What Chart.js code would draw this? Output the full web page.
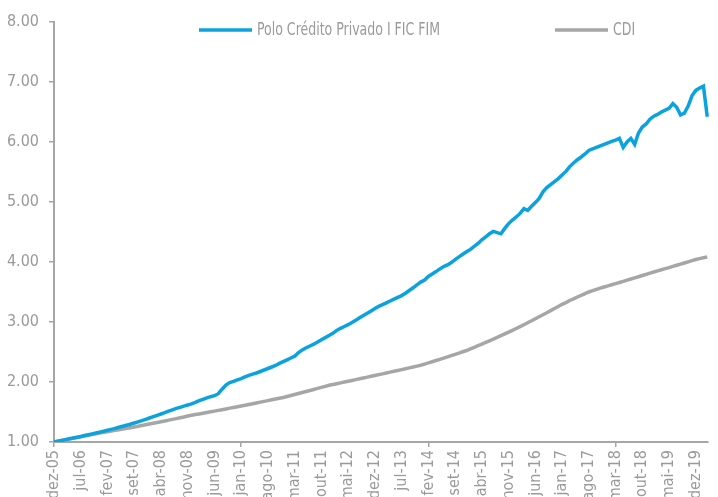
<!doctype html>
<html lang="pt-br">

<head>
    <title>Polo Crédito Privado x CDI</title>
    <meta charset="utf-8">
    <style>
        body { margin: 0; background: #fff; }
    </style>
</head>

<body>

    <canvas id="grafico" width="718" height="497"></canvas>

    <script src="https://cdn.jsdelivr.net/npm/chart.js"></script>
    <script>
        // rótulos dos meses (dez-05 até mar-20)
        const nomesMeses = ["jan", "fev", "mar", "abr", "mai", "jun", "jul", "ago", "set", "out", "nov", "dez"];
        const meses = ["dez-05"];
        for (let ano = 6; ano <= 20; ano++) {
            for (let m = 0; m < 12; m++) {
                if (ano === 20 && m > 2) break;
                meses.push(nomesMeses[m] + "-" + String(ano).padStart(2, "0"));
            }
        }

        const nomeFundo = "Polo Crédito Privado I FIC FIM";
        const nomeCdi = "CDI";

        // cota acumulada do fundo (base 1,00)
        const polo = [
            1.000,
            1.013, 1.026, 1.040, 1.053, 1.066, 1.079, 1.093, 1.107, 1.121, 1.135, 1.150, 1.165,
            1.180, 1.195, 1.211, 1.228, 1.245, 1.262, 1.279, 1.296, 1.316, 1.336, 1.356, 1.378,
            1.400, 1.422, 1.445, 1.467, 1.490, 1.515, 1.537, 1.560, 1.578, 1.597, 1.617, 1.635,
            1.660, 1.688, 1.712, 1.735, 1.755, 1.772, 1.805, 1.880, 1.950, 1.990, 2.010, 2.035,
            2.055, 2.085, 2.110, 2.130, 2.150, 2.175, 2.200, 2.225, 2.250, 2.275, 2.310, 2.340,
            2.370, 2.400, 2.430, 2.490, 2.535, 2.570, 2.600, 2.630, 2.665, 2.705, 2.740, 2.775,
            2.810, 2.860, 2.895, 2.925, 2.955, 2.990, 3.030, 3.070, 3.110, 3.145, 3.185, 3.225,
            3.260, 3.290, 3.320, 3.350, 3.380, 3.410, 3.440, 3.480, 3.525, 3.570, 3.620, 3.665,
            3.700, 3.760, 3.800, 3.840, 3.885, 3.925, 3.950, 3.990, 4.040, 4.085, 4.130, 4.170,
            4.210, 4.260, 4.310, 4.370, 4.420, 4.470, 4.510, 4.490, 4.470, 4.560, 4.640, 4.700,
            4.750, 4.810, 4.890, 4.860, 4.930, 4.990, 5.060, 5.170, 5.240, 5.290, 5.340, 5.390,
            5.450, 5.510, 5.590, 5.650, 5.705, 5.750, 5.800, 5.860, 5.885, 5.910, 5.935, 5.960,
            5.985, 6.010, 6.030, 6.060, 5.910, 6.000, 6.060, 5.960, 6.150, 6.250, 6.300, 6.380,
            6.430, 6.460, 6.500, 6.530, 6.560, 6.640, 6.580, 6.450, 6.480, 6.600, 6.770, 6.860,
            6.900, 6.930, 6.420
        ];

        // CDI acumulado (base 1,00)
        const cdi = [
            1.000,
            1.012, 1.024, 1.036, 1.048, 1.060, 1.073, 1.085, 1.098, 1.111, 1.124, 1.137, 1.150,
            1.161, 1.172, 1.183, 1.194, 1.205, 1.216, 1.228, 1.239, 1.251, 1.263, 1.274, 1.286,
            1.299, 1.312, 1.324, 1.337, 1.350, 1.364, 1.377, 1.390, 1.404, 1.418, 1.432, 1.446,
            1.457, 1.468, 1.480, 1.492, 1.503, 1.515, 1.527, 1.539, 1.551, 1.564, 1.576, 1.588,
            1.601, 1.613, 1.626, 1.638, 1.651, 1.664, 1.677, 1.690, 1.703, 1.716, 1.730, 1.743,
            1.759, 1.775, 1.792, 1.808, 1.825, 1.842, 1.859, 1.876, 1.893, 1.910, 1.928, 1.946,
            1.959, 1.972, 1.985, 1.999, 2.012, 2.026, 2.039, 2.053, 2.067, 2.081, 2.095, 2.109,
            2.123, 2.136, 2.150, 2.164, 2.178, 2.192, 2.206, 2.221, 2.235, 2.250, 2.264, 2.279,
            2.298, 2.318, 2.338, 2.358, 2.378, 2.399, 2.419, 2.440, 2.461, 2.482, 2.504, 2.525,
            2.551, 2.578, 2.605, 2.632, 2.659, 2.687, 2.715, 2.743, 2.772, 2.801, 2.830, 2.860,
            2.891, 2.923, 2.955, 2.987, 3.020, 3.053, 3.087, 3.121, 3.155, 3.189, 3.224, 3.260,
            3.295, 3.324, 3.359, 3.385, 3.417, 3.444, 3.472, 3.500, 3.522, 3.545, 3.565, 3.584,
            3.603, 3.621, 3.640, 3.659, 3.678, 3.697, 3.717, 3.736, 3.755, 3.775, 3.794, 3.814,
            3.833, 3.851, 3.870, 3.889, 3.907, 3.926, 3.945, 3.964, 3.984, 4.003, 4.022, 4.042,
            4.057, 4.071, 4.086
        ];

        // eixo y
        const yMin = 1;
        const yMax = 8;

        const azul = "#0aa3dd";
        const cinza = "#a6a6a6";
        const corTexto = "#9a9a9a";
        const fonte = "'DejaVu Sans Condensed', 'Liberation Sans Narrow', sans-serif";

        // legenda desenhada dentro da área do gráfico (texto estreitado como no original)
        const posLegenda = [199, 555];
        const legenda = {
            id: "legenda",
            afterDraw(chart) {
                const ctx = chart.ctx;
                chart.data.datasets.forEach((ds, i) => {
                    const x = posLegenda[i];
                    const y = 30;
                    ctx.save();
                    ctx.strokeStyle = ds.borderColor;
                    ctx.lineWidth = 3.5;
                    ctx.beginPath();
                    ctx.moveTo(x, y);
                    ctx.lineTo(x + 53, y);
                    ctx.stroke();
                    ctx.translate(x + 58, y + 1);
                    ctx.scale(0.82, 1);
                    ctx.font = "17px " + fonte;
                    ctx.textBaseline = "middle";
                    ctx.fillStyle = corTexto;
                    ctx.fillText(ds.label, 0, 0);
                    ctx.restore();
                });
            }
        };

        const marca = c => (c.index % 7 === 0 ? cinza : "rgba(0,0,0,0)");

        new Chart(document.querySelector("#grafico"), {
            type: "line",
            data: {
                labels: meses,
                datasets: [
                    {
                        label: nomeFundo,
                        data: polo,
                        borderColor: azul,
                        borderWidth: 3.5,
                        pointRadius: 0,
                        tension: 0
                    },
                    {
                        label: nomeCdi,
                        data: cdi,
                        borderColor: cinza,
                        borderWidth: 3.5,
                        pointRadius: 0,
                        tension: 0
                    }
                ]
            },
            options: {
                responsive: false,
                animation: false,
                devicePixelRatio: 1,
                layout: { padding: { top: 22, right: 0, bottom: 0, left: 0 } },
                plugins: {
                    legend: { display: false },
                    tooltip: { enabled: false }
                },
                scales: {
                    x: {
                        offset: false,
                        border: { color: cinza, width: 2 },
                        grid: { drawOnChartArea: false, tickLength: 5, color: marca, tickColor: marca, lineWidth: 1.5 },
                        ticks: {
                            autoSkip: false,
                            minRotation: 90,
                            maxRotation: 90,
                            padding: 3,
                            color: corTexto,
                            font: { family: fonte, size: 16 },
                            callback: (v, i) => (i % 7 === 0 ? meses[i] : null)
                        },
                        afterFit: s => { s.height = 55; }
                    },
                    y: {
                        min: yMin,
                        max: yMax,
                        border: { color: cinza, width: 2 },
                        grid: { drawOnChartArea: false, tickLength: 5, color: cinza, lineWidth: 1.5 },
                        ticks: {
                            stepSize: 1,
                            padding: 10,
                            color: corTexto,
                            font: { family: fonte, size: 16 },
                            callback: v => v.toFixed(2)
                        },
                        afterFit: s => { s.width = 54; }
                    }
                }
            },
            plugins: [legenda]
        });
    </script>
</body>
</html>
